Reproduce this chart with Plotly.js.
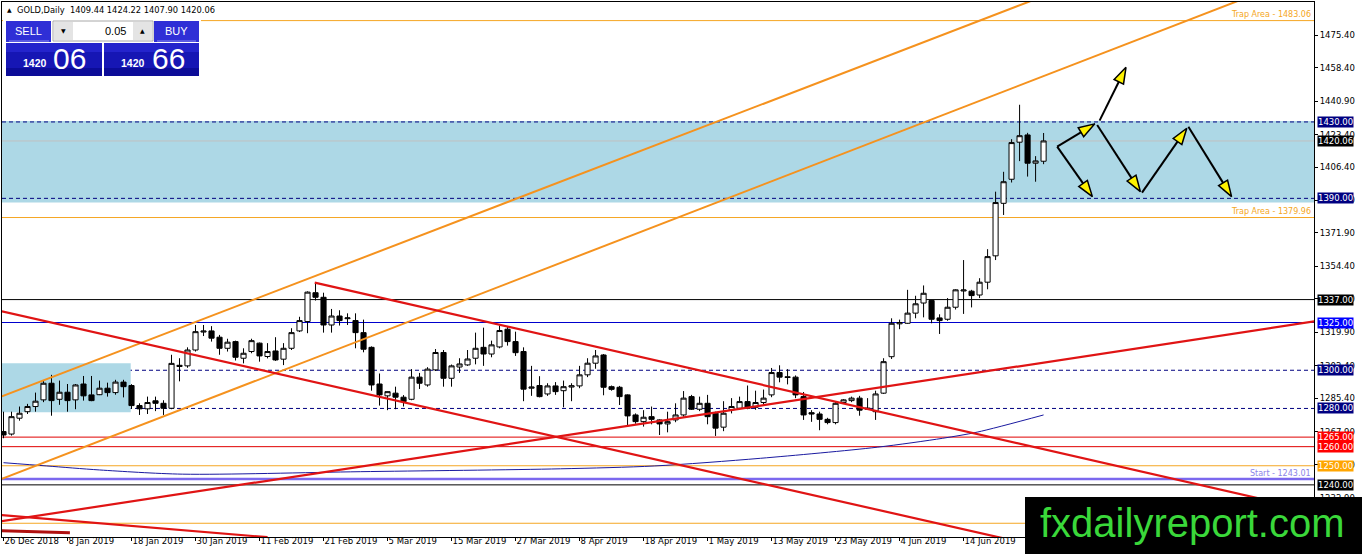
<!DOCTYPE html>
<html><head><meta charset="utf-8">
<script src="https://cdn.plot.ly/plotly-3.0.1.min.js"></script>
<style>html,body{margin:0;padding:0;background:#fff;overflow:hidden}#chart{width:1362px;height:554px}</style>
</head><body><div id="chart"></div>
<script>
// ---------- DATA ----------
const tickBars = [0,8,16,24,32,40,48,56,64,72,80,88,96,104,112,120];
const tickDates = ['26 Dec 2018','8 Jan 2019','18 Jan 2019','30 Jan 2019','11 Feb 2019','21 Feb 2019','5 Mar 2019','15 Mar 2019','27 Mar 2019','8 Apr 2019','18 Apr 2019','1 May 2019','13 May 2019','23 May 2019','4 Jun 2019','14 Jun 2019'];
const priceTicks = [1475.40,1458.40,1440.90,1423.40,1406.40,1388.90,1371.90,1354.40,1337.40,1319.90,1302.40,1285.40,1267.90,1250.40,1232.90];

const openP  = [1267.9,1266.6,1274.9,1278.3,1281.0,1284.5,1293.2,1284.8,1288.5,1284.5,1292.8,1287.1,1287.2,1290.6,1288.3,1293.8,1292.0,1281.5,1279.8,1284.0,1282.7,1280.1,1302.6,1302.3,1310.6,1320.0,1320.6,1317.3,1311.5,1315.0,1306.3,1309.8,1314.2,1307.2,1310.1,1305.8,1311.5,1320.6,1325.5,1340.6,1338.2,1323.7,1328.4,1327.0,1326.0,1319.7,1312.0,1292.8,1286.6,1288.0,1285.9,1284.8,1296.4,1292.3,1300.2,1309.3,1295.8,1301.7,1302.8,1306.3,1312.0,1308.5,1312.2,1321.5,1315.0,1309.8,1290.6,1292.0,1287.6,1291.8,1289.3,1291.2,1291.8,1297.6,1303.7,1308.0,1291.4,1291.1,1287.1,1276.6,1273.1,1275.7,1274.0,1271.9,1274.0,1276.6,1286.2,1279.6,1282.7,1277.5,1270.2,1279.3,1280.1,1283.6,1280.6,1283.1,1287.1,1298.8,1296.6,1296.4,1286.2,1277.8,1277.1,1274.3,1272.6,1283.1,1284.1,1285.4,1279.6,1278.3,1288.0,1307.1,1324.3,1324.6,1329.9,1335.2,1336.5,1327.4,1326.7,1333.0,1341.5,1341.4,1339.4,1346.1,1359.9,1387.4,1400.0,1419.4,1423.2,1408.4,1409.44];
const highP  = [1278.3,1278.3,1281.0,1282.4,1288.3,1294.6,1297.6,1294.6,1292.8,1292.8,1297.0,1297.0,1294.6,1293.5,1295.0,1295.0,1292.7,1282.7,1286.2,1286.2,1284.3,1308.1,1306.3,1312.0,1323.7,1323.7,1323.1,1318.5,1316.5,1315.5,1311.5,1316.5,1314.5,1314.2,1317.3,1314.2,1322.0,1328.0,1341.3,1345.9,1340.6,1332.1,1331.4,1329.8,1329.8,1326.5,1312.5,1298.3,1288.9,1291.4,1287.0,1300.6,1298.6,1301.6,1311.1,1310.6,1303.0,1306.3,1310.6,1319.7,1322.3,1315.5,1323.4,1322.8,1320.2,1312.0,1302.3,1296.9,1293.2,1293.8,1294.6,1293.2,1302.3,1306.3,1310.6,1308.5,1292.0,1291.8,1287.4,1277.4,1279.1,1281.0,1274.3,1278.3,1282.7,1289.1,1287.1,1286.2,1287.1,1278.3,1283.8,1285.4,1286.2,1292.0,1289.3,1289.9,1301.2,1302.6,1300.6,1297.3,1288.6,1279.1,1278.3,1275.1,1283.6,1284.9,1286.2,1286.6,1285.4,1289.3,1306.3,1327.2,1326.5,1342.1,1339.0,1344.4,1336.5,1329.3,1337.8,1342.4,1357.7,1342.1,1348.2,1363.4,1393.5,1403.9,1421.0,1439.0,1424.3,1412.1,1424.22];
const lowP   = [1264.4,1265.8,1273.6,1277.1,1278.3,1283.3,1276.2,1281.9,1278.3,1279.6,1284.1,1283.8,1287.0,1286.2,1287.2,1285.8,1279.8,1276.6,1277.1,1278.6,1276.6,1279.6,1294.2,1301.3,1309.8,1317.9,1315.0,1308.1,1309.8,1305.1,1303.6,1308.9,1304.5,1306.2,1304.9,1302.7,1310.6,1320.0,1319.4,1336.5,1319.7,1319.7,1323.4,1323.7,1311.5,1309.4,1289.3,1281.5,1279.1,1279.6,1281.0,1284.3,1290.2,1291.4,1299.6,1291.4,1291.4,1298.6,1302.3,1303.1,1302.3,1306.8,1311.5,1312.9,1307.5,1283.8,1286.6,1285.8,1286.6,1287.1,1280.6,1283.8,1290.6,1296.4,1300.8,1286.9,1289.3,1281.8,1270.3,1272.0,1270.5,1271.7,1266.1,1267.5,1272.8,1275.7,1279.2,1278.6,1271.7,1265.6,1268.1,1277.4,1279.3,1279.6,1279.3,1281.5,1285.9,1293.7,1292.6,1285.4,1274.0,1273.0,1268.6,1271.7,1271.7,1282.7,1283.3,1276.2,1279.3,1274.0,1287.6,1305.9,1321.5,1324.3,1327.2,1327.7,1324.6,1319.0,1325.9,1331.8,1329.5,1332.9,1337.8,1342.4,1357.7,1381.3,1398.3,1409.5,1401.4,1398.7,1407.90];
const closeP = [1266.1,1275.7,1277.5,1281.0,1283.8,1293.2,1284.1,1288.5,1284.1,1292.3,1286.6,1284.1,1290.6,1288.3,1293.8,1291.4,1281.5,1279.8,1283.1,1282.7,1280.1,1303.6,1302.0,1310.6,1320.2,1320.5,1316.8,1311.5,1314.7,1306.8,1308.9,1315.5,1307.5,1309.8,1305.4,1311.5,1319.7,1326.0,1340.9,1338.2,1323.7,1328.4,1326.0,1327.4,1319.7,1311.0,1292.3,1287.1,1288.8,1285.9,1283.6,1296.4,1293.2,1300.6,1309.3,1295.8,1302.3,1303.3,1305.9,1311.5,1308.5,1313.3,1320.8,1315.0,1309.2,1290.1,1291.2,1286.2,1291.8,1288.8,1291.4,1291.9,1297.6,1303.7,1307.5,1291.1,1290.0,1286.2,1276.1,1273.1,1275.4,1274.3,1271.9,1273.1,1276.6,1285.4,1279.6,1282.7,1275.7,1269.7,1277.5,1281.0,1283.6,1280.1,1283.1,1285.4,1298.8,1296.4,1296.2,1287.1,1276.6,1277.1,1274.3,1272.6,1282.7,1284.5,1285.4,1279.1,1280.1,1287.6,1304.5,1324.6,1325.0,1329.9,1334.8,1340.3,1326.7,1326.0,1333.0,1342.1,1342.0,1339.1,1346.1,1359.5,1387.8,1398.7,1419.2,1422.8,1408.4,1409.6,1420.06];

// moving average (read points)
const maBars   = [0,5.4,12,22.4,44.6,69.6,81.4,94.6,109.2,117.4,121.7,130];
const maValues = [1251.6,1249.9,1247.8,1245.6,1246.9,1248.4,1249.9,1253.9,1259.7,1264.4,1267.6,1276.6];

// trend lines: [bar0, price0, bar1, price1]
const orangeChannelUpper = [-0.2,1286.3,131,1497.5];
const orangeChannelLower = [-0.2,1243.1,160,1502.6];
const redDownFromHigh    = [38.9,1345.9,165,1225.2];
const redDownParallel    = [-0.2,1330.9,125,1212.0];
const redUp              = [-0.5,1220.8,164,1325.7];
const redBottomA         = [-0.5,1224.3,33,1212.6];
const redBottomB         = [-0.5,1216.0,8.3,1214.9];

// horizontal levels
const levelPrices = [1483.06,1430.00,1420.06,1390.00,1379.96,1337.00,1325.00,1300.00,1280.00,1265.00,1260.00,1250.00,1243.01,1240.00,1219.90];
const levelColors = ['#F5A623','#000080','#C0C0C0','#000080','#F5A623','#000000','#0000CD','#000080','#000080','#E00000','#E00000','#F5A623','#7B68EE','#000000','#F5A623'];
const levelDash   = ['solid','4px,3px','solid','4px,3px','solid','solid','solid','4px,3px','4px,3px','solid','solid','solid','solid','solid','solid'];
const levelWidth  = [1,1,1,1,1,1,1,1,1,1,1,1,2.5,1,1];

// zones
const zoneMain = [1387.8,1430.5];
const zoneLeft = {bars:[-0.2,15.9], prices:[1278.0,1303.7]};

// axis price labels
const axisLabelPrices = [1430.00,1420.06,1390.00,1337.00,1325.00,1300.00,1280.00,1265.00,1260.00,1250.00,1240.00];
const axisLabelColors = ['#000080','#000000','#000080','#000000','#0000FF','#000080','#000080','#FF0000','#FF0000','#FFA500','#000000'];

// projection arrows: [fromBar, fromPrice, toBar, toPrice]
const arrows = [
  [131.7,1417.1,136.4,1429.0],
  [131.7,1417.1,136.1,1390.9],
  [137.0,1430.7,140.3,1458.6],
  [136.7,1428.4,142.1,1393.5],
  [142.3,1393.0,147.9,1426.7],
  [148.1,1427.5,153.5,1390.9]
];

const header = {symbol:'GOLD,Daily', ohlc:'1409.44 1424.22 1407.90 1420.06'};
const sellPrice = ['1420','06'], buyPrice = ['1420','66'], lotSize = '0.05';

// ---------- LAYOUT ----------
const W=1362,H=554,L=2,R=48,T=2,B=17;
const xRange=[-0.1875,163.8], yRange=[1212.7,1492.8];
const pw=W-L-R, ph=H-T-B;
const px = X => (X-L)/pw;
const py = Y => (H-B-Y)/ph;
const bars = openP.map((_,i)=>i);

const traces = [];
traces.push({type:'candlestick',x:bars,open:openP,high:highP,low:lowP,close:closeP,
  increasing:{line:{color:'#000',width:1},fillcolor:'#fff'},
  decreasing:{line:{color:'#000',width:1},fillcolor:'#000'},
  whiskerwidth:0,hoverinfo:'skip',showlegend:false});
traces.push({type:'scatter',mode:'lines',x:maBars,y:maValues,line:{color:'#1a1aa0',width:1,shape:'spline',smoothing:0.8},hoverinfo:'skip',showlegend:false});
function seg(s,color,width){traces.push({type:'scatter',mode:'lines',x:[s[0],s[2]],y:[s[1],s[3]],line:{color:color,width:width},hoverinfo:'skip',showlegend:false});}
seg(orangeChannelUpper,'#F5921E',2);
seg(orangeChannelLower,'#F5921E',2);
seg(redDownFromHigh,'#E01414',2.2);
seg(redDownParallel,'#E01414',2.2);
seg(redUp,'#E01414',2.2);
seg(redBottomA,'#E01414',2.2);
seg(redBottomB,'#B01010',3);
arrows.forEach(a=>traces.push({type:'scatter',mode:'lines+markers',x:[a[0],a[2]],y:[a[1],a[3]],
  line:{color:'#000',width:2},
  marker:{symbol:'arrow',size:[0,17],opacity:[0,1],angleref:'previous',color:'#FFF200',line:{color:'#000',width:1.5}},
  cliponaxis:false,hoverinfo:'skip',showlegend:false}));

const shapes=[];
shapes.push({type:'rect',layer:'below',xref:'paper',yref:'y',x0:0,x1:1,y0:zoneMain[0],y1:zoneMain[1],fillcolor:'#ADD8E6',line:{width:0}});
shapes.push({type:'rect',layer:'below',xref:'x',yref:'y',x0:zoneLeft.bars[0],x1:zoneLeft.bars[1],y0:zoneLeft.prices[0],y1:zoneLeft.prices[1],fillcolor:'#ADD8E6',line:{width:0}});
levelPrices.forEach((p,k)=>shapes.push({type:'line',layer:'below',xref:'paper',yref:'y',x0:0,x1:1,y0:p,y1:p,line:{color:levelColors[k],width:levelWidth[k],dash:levelDash[k]}}));
// trading panel
function prect(x0,y0,x1,y1,fill,lc){shapes.push({type:'rect',xref:'paper',yref:'paper',layer:'above',x0:px(x0),x1:px(x1),y0:py(y1),y1:py(y0),fillcolor:fill,line:{width:lc?1:0,color:lc||fill}});}
prect(3,16,201,78,'#ffffff');
prect(6,21,51,42,'#2f2fd6');
prect(154,21,199,42,'#2f2fd6');
prect(53,21,153,41,'#ffffff','#a8a8a8');
prect(54,22,73,40,'#e4e4e4');
prect(133,22,152,40,'#e4e4e4');
prect(6,43,102,76,'#1616b4');
prect(104,43,199,76,'#1616b4');
prect(6,43,102,52,'#2424cc');
prect(104,43,199,52,'#2424cc');
prect(6,68,102,76,'#0c0c98');
prect(104,68,199,76,'#0c0c98');
shapes.push({type:'line',xref:'paper',yref:'paper',layer:'above',x0:px(9),x1:px(49),y0:py(41),y1:py(41),line:{color:'#8a8af0',width:1}});
shapes.push({type:'line',xref:'paper',yref:'paper',layer:'above',x0:px(157),x1:px(196),y0:py(41),y1:py(41),line:{color:'#8a8af0',width:1}});
// watermark box
prect(1025,497,1364,556,'#000000');

const ann=[];
const F='DejaVu Sans';
axisLabelPrices.forEach((p,k)=>ann.push({xref:'paper',yref:'y',x:1,y:p,xanchor:'left',yanchor:'middle',xshift:3,
  text:p.toFixed(2),showarrow:false,bgcolor:axisLabelColors[k],borderpad:0,font:{family:F,size:8.5,color:'#fff'}}));
function ptxt(text,X,Y,anchor,size,color,fam,bold){ann.push({xref:'paper',yref:'paper',x:px(X),y:py(Y),xanchor:anchor,yanchor:'middle',text:bold?'<b>'+text+'</b>':text,showarrow:false,font:{family:fam||F,size:size,color:color}});}
ptxt('Trap Area - '+levelPrices[0].toFixed(2),1313,14,'right',8,'#F5A623');
ptxt('Trap Area - '+levelPrices[4].toFixed(2),1313,211,'right',8,'#F5A623');
ptxt('Start - '+levelPrices[12].toFixed(2),1313,473,'right',8,'#8c84e8');
ptxt('▲',5,10,'left',6,'#000');
ptxt(header.symbol+'  '+header.ohlc,15,10,'left',8.3,'#000');
ptxt('SELL',28.5,31,'center',11,'#fff','Liberation Sans');
ptxt('BUY',176,31,'center',11,'#fff','Liberation Sans');
ptxt('▼',63.5,31,'center',6,'#000');
ptxt('▲',142.5,31,'center',6,'#000');
ptxt(lotSize,128,31,'right',11,'#000','Liberation Sans');
ptxt(sellPrice[0],21,63,'left',10.5,'#fff','Liberation Sans',true);
ptxt(sellPrice[1],51,58,'left',30,'#fff','Liberation Sans');
ptxt(buyPrice[0],119,63,'left',10.5,'#fff','Liberation Sans',true);
ptxt(buyPrice[1],150,58,'left',30,'#fff','Liberation Sans');
ptxt('fxdailyreport.com',1192,523,'center',40,'#3ad83a','Liberation Sans');

const layout={width:W,height:H,margin:{l:L,r:R,t:T,b:B,pad:0},paper_bgcolor:'#fff',plot_bgcolor:'#fff',
  showlegend:false,boxgap:0.2,boxgroupgap:0.2,dragmode:false,
  xaxis:{range:xRange,type:'linear',showgrid:false,zeroline:false,showline:true,mirror:true,linecolor:'#000',linewidth:1,
    tickmode:'array',tickvals:tickBars,ticktext:tickDates,ticks:'outside',ticklen:3,tickcolor:'#000',tickangle:0,ticklabelstandoff:-4,
    ticklabelposition:'outside right',tickfont:{family:F,size:8.5,color:'#000'},rangeslider:{visible:false},fixedrange:true},
  yaxis:{range:yRange,side:'right',showgrid:false,zeroline:false,showline:true,mirror:true,linecolor:'#000',linewidth:1,
    tickmode:'array',tickvals:priceTicks,ticktext:priceTicks.map(v=>v.toFixed(2)),ticks:'outside',ticklen:3,tickcolor:'#000',
    tickfont:{family:F,size:8.5,color:'#000'},fixedrange:true},
  shapes:shapes,annotations:ann};
Plotly.newPlot('chart',traces,layout,{displayModeBar:false,staticPlot:true});
</script></body></html>
